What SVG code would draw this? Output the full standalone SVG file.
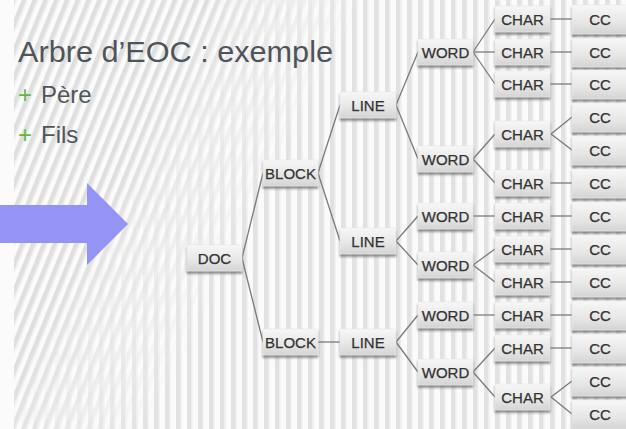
<svg xmlns="http://www.w3.org/2000/svg" width="626" height="429" viewBox="0 0 626 429">
  <defs>
    <!-- slanted stripes of the slide background -->
    <pattern id="diag" width="10" height="40" patternUnits="userSpaceOnUse" patternTransform="rotate(22)">
      <rect x="0" y="0" width="4" height="40" fill="#dfdfdf"/>
      <rect x="4" y="0" width="1.5" height="40" fill="#eaeaea"/>
    </pattern>
    <!-- upright stripes -->
    <pattern id="vert" width="11" height="40" patternUnits="userSpaceOnUse">
      <rect x="0" y="0" width="4" height="40" fill="#e2e2e2"/>
      <rect x="4" y="0" width="1.5" height="40" fill="#ececec"/>
    </pattern>
    <linearGradient id="fadeDiag" x1="0" y1="0" x2="1" y2="0.35">
      <stop offset="0.3" stop-color="#fff"/>
      <stop offset="0.52" stop-color="#000"/>
    </linearGradient>
    <linearGradient id="fadeVert" x1="0" y1="0" x2="1" y2="0.35">
      <stop offset="0.3" stop-color="#000"/>
      <stop offset="0.52" stop-color="#fff"/>
    </linearGradient>
    <mask id="mDiag"><rect width="626" height="429" fill="url(#fadeDiag)"/></mask>
    <mask id="mVert"><rect width="626" height="429" fill="url(#fadeVert)"/></mask>
    <linearGradient id="boxFill" x1="0" y1="0" x2="0" y2="1">
      <stop offset="0" stop-color="#f7f7f7"/>
      <stop offset="0.6" stop-color="#e6e6e6"/>
      <stop offset="1" stop-color="#d4d4d4"/>
    </linearGradient>
    <filter id="shadow" x="-10%" y="-20%" width="120%" height="150%">
      <feDropShadow dx="0" dy="2.4" stdDeviation="1.2" flood-color="#555" flood-opacity="0.7"/>
    </filter>
  </defs>
  <style>
    .box { fill: url(#boxFill); stroke: #e9e9e9; stroke-width: 0.6; filter: url(#shadow); }
    .lbl { font-family: "Liberation Sans", Arial, sans-serif; font-size: 15px; fill: #333; stroke: #333; stroke-width: 0.25; text-anchor: middle; }
    .edge { stroke: #7a7a7a; stroke-width: 1.3; fill: none; }
    .title { font-family: "Liberation Sans", Arial, sans-serif; font-size: 29px; fill: #4f545a; }
    .item { font-family: "Liberation Sans", Arial, sans-serif; font-size: 24px; fill: #50555b; }
    .plus { font-family: "Liberation Sans", Arial, sans-serif; font-size: 24px; fill: #66b640; }
  </style>

  <!-- background -->
  <rect width="626" height="429" fill="#fbfbfb"/>
  <g id="background">
    <rect x="14" y="0" width="612" height="429" fill="url(#diag)" mask="url(#mDiag)"/>
    <rect x="14" y="0" width="612" height="429" fill="url(#vert)" mask="url(#mVert)"/>
  </g>

  <!-- heading and bullets -->
  <g id="heading">
    <text class="title" x="18" y="62" textLength="315" lengthAdjust="spacingAndGlyphs">Arbre d’EOC : exemple</text>
    <text class="plus" x="18" y="103">+</text>
    <text class="item" x="41" y="103">Père</text>
    <text class="plus" x="18" y="143">+</text>
    <text class="item" x="41" y="143">Fils</text>
  </g>

  <!-- big pointer arrow -->
  <g id="pointer">
    <polygon points="0,205 87,205 87,183 128,224 87,265 87,243 0,243" fill="#9494f6"/>
  </g>

  <!-- connectors -->
  <g id="connectors" class="edge">
    <!-- DOC -> BLOCK -->
    <line x1="242" y1="258" x2="263" y2="173"/>
    <line x1="242" y1="258" x2="263" y2="342"/>
    <!-- BLOCK -> LINE -->
    <line x1="318" y1="173" x2="340" y2="105"/>
    <line x1="318" y1="173" x2="340" y2="241"/>
    <line x1="318" y1="342" x2="340" y2="342"/>
    <!-- LINE -> WORD -->
    <line x1="396" y1="105" x2="418" y2="52"/>
    <line x1="396" y1="105" x2="418" y2="159"/>
    <line x1="396" y1="241" x2="418" y2="216"/>
    <line x1="396" y1="241" x2="418" y2="265"/>
    <line x1="396" y1="342" x2="418" y2="315"/>
    <line x1="396" y1="342" x2="418" y2="372"/>
    <!-- WORD -> CHAR -->
    <line x1="473" y1="52" x2="495" y2="19"/>
    <line x1="473" y1="52" x2="495" y2="52"/>
    <line x1="473" y1="52" x2="495" y2="84"/>
    <line x1="473" y1="159" x2="495" y2="134"/>
    <line x1="473" y1="159" x2="495" y2="183"/>
    <line x1="473" y1="216" x2="495" y2="216"/>
    <line x1="473" y1="265" x2="495" y2="249"/>
    <line x1="473" y1="265" x2="495" y2="282"/>
    <line x1="473" y1="315" x2="495" y2="315"/>
    <line x1="473" y1="372" x2="495" y2="348"/>
    <line x1="473" y1="372" x2="495" y2="397"/>
    <!-- CHAR -> CC -->
    <line x1="550" y1="19" x2="572" y2="19"/>
    <line x1="550" y1="52" x2="572" y2="52"/>
    <line x1="550" y1="84" x2="572" y2="84"/>
    <line x1="551" y1="134" x2="572" y2="117"/>
    <line x1="551" y1="134" x2="572" y2="150"/>
    <line x1="550" y1="183" x2="572" y2="183"/>
    <line x1="550" y1="216" x2="572" y2="216"/>
    <line x1="550" y1="249" x2="572" y2="249"/>
    <line x1="550" y1="282" x2="572" y2="282"/>
    <line x1="550" y1="315" x2="572" y2="315"/>
    <line x1="550" y1="348" x2="572" y2="348"/>
    <line x1="551" y1="397" x2="572" y2="381"/>
    <line x1="551" y1="397" x2="572" y2="414"/>
  </g>

  <!-- tree nodes -->
  <g id="doc"><rect class="box" x="187" y="245" width="55" height="26"/><text class="lbl" x="214.5" y="263.5">DOC</text></g>

  <g id="block1"><rect class="box" x="263" y="160" width="55" height="26"/><text class="lbl" x="290.5" y="178.5">BLOCK</text></g>
  <g id="block2"><rect class="box" x="263" y="329" width="55" height="26"/><text class="lbl" x="290.5" y="347.5">BLOCK</text></g>

  <g id="line1"><rect class="box" x="340" y="92" width="56" height="26"/><text class="lbl" x="368" y="110.5">LINE</text></g>
  <g id="line2"><rect class="box" x="340" y="228" width="56" height="26"/><text class="lbl" x="368" y="246.5">LINE</text></g>
  <g id="line3"><rect class="box" x="340" y="329" width="56" height="26"/><text class="lbl" x="368" y="347.5">LINE</text></g>

  <g id="word1"><rect class="box" x="418" y="39" width="55" height="26"/><text class="lbl" x="445.5" y="57.5">WORD</text></g>
  <g id="word2"><rect class="box" x="418" y="146" width="55" height="26"/><text class="lbl" x="445.5" y="164.5">WORD</text></g>
  <g id="word3"><rect class="box" x="418" y="203" width="55" height="26"/><text class="lbl" x="445.5" y="221.5">WORD</text></g>
  <g id="word4"><rect class="box" x="418" y="252" width="55" height="26"/><text class="lbl" x="445.5" y="270.5">WORD</text></g>
  <g id="word5"><rect class="box" x="418" y="302" width="55" height="26"/><text class="lbl" x="445.5" y="320.5">WORD</text></g>
  <g id="word6"><rect class="box" x="418" y="359" width="55" height="26"/><text class="lbl" x="445.5" y="377.5">WORD</text></g>

  <g id="char1"><rect class="box" x="495" y="6" width="55" height="26"/><text class="lbl" x="522.5" y="24.5">CHAR</text></g>
  <g id="char2"><rect class="box" x="495" y="39" width="55" height="26"/><text class="lbl" x="522.5" y="57.5">CHAR</text></g>
  <g id="char3"><rect class="box" x="495" y="71" width="55" height="26"/><text class="lbl" x="522.5" y="89.5">CHAR</text></g>
  <g id="char4"><rect class="box" x="495" y="121" width="55" height="26"/><text class="lbl" x="522.5" y="139.5">CHAR</text></g>
  <g id="char5"><rect class="box" x="495" y="170" width="55" height="26"/><text class="lbl" x="522.5" y="188.5">CHAR</text></g>
  <g id="char6"><rect class="box" x="495" y="203" width="55" height="26"/><text class="lbl" x="522.5" y="221.5">CHAR</text></g>
  <g id="char7"><rect class="box" x="495" y="236" width="55" height="26"/><text class="lbl" x="522.5" y="254.5">CHAR</text></g>
  <g id="char8"><rect class="box" x="495" y="269" width="55" height="26"/><text class="lbl" x="522.5" y="287.5">CHAR</text></g>
  <g id="char9"><rect class="box" x="495" y="302" width="55" height="26"/><text class="lbl" x="522.5" y="320.5">CHAR</text></g>
  <g id="char10"><rect class="box" x="495" y="335" width="55" height="26"/><text class="lbl" x="522.5" y="353.5">CHAR</text></g>
  <g id="char11"><rect class="box" x="495" y="384" width="55" height="26"/><text class="lbl" x="522.5" y="402.5">CHAR</text></g>

  <g id="cc1"><rect class="box" x="572" y="5" width="60" height="29"/><text class="lbl" x="600" y="24.5">CC</text></g>
  <g id="cc2"><rect class="box" x="572" y="38" width="60" height="29"/><text class="lbl" x="600" y="57.5">CC</text></g>
  <g id="cc3"><rect class="box" x="572" y="70" width="60" height="29"/><text class="lbl" x="600" y="89.5">CC</text></g>
  <g id="cc4"><rect class="box" x="572" y="103" width="60" height="29"/><text class="lbl" x="600" y="122.5">CC</text></g>
  <g id="cc5"><rect class="box" x="572" y="136" width="60" height="29"/><text class="lbl" x="600" y="155.5">CC</text></g>
  <g id="cc6"><rect class="box" x="572" y="169" width="60" height="29"/><text class="lbl" x="600" y="188.5">CC</text></g>
  <g id="cc7"><rect class="box" x="572" y="202" width="60" height="29"/><text class="lbl" x="600" y="221.5">CC</text></g>
  <g id="cc8"><rect class="box" x="572" y="235" width="60" height="29"/><text class="lbl" x="600" y="254.5">CC</text></g>
  <g id="cc9"><rect class="box" x="572" y="268" width="60" height="29"/><text class="lbl" x="600" y="287.5">CC</text></g>
  <g id="cc10"><rect class="box" x="572" y="301" width="60" height="29"/><text class="lbl" x="600" y="320.5">CC</text></g>
  <g id="cc11"><rect class="box" x="572" y="334" width="60" height="29"/><text class="lbl" x="600" y="353.5">CC</text></g>
  <g id="cc12"><rect class="box" x="572" y="367" width="60" height="29"/><text class="lbl" x="600" y="386.5">CC</text></g>
  <g id="cc13"><rect class="box" x="572" y="400" width="60" height="29"/><text class="lbl" x="600" y="419.5">CC</text></g>
</svg>
